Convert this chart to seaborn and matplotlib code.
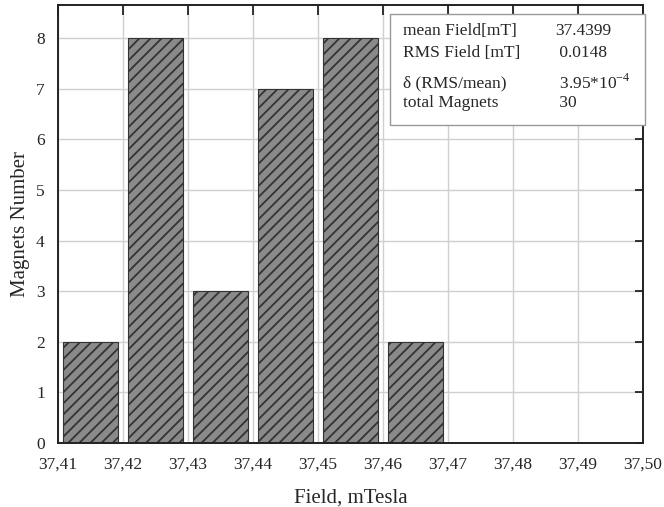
import seaborn as sns
import matplotlib.pyplot as plt
from matplotlib.patches import Rectangle

# histogram of magnet fields
bin_centers = [37.415, 37.425, 37.435, 37.445, 37.455, 37.465]
counts = [2, 8, 3, 7, 8, 2]
xticks = [37.41, 37.42, 37.43, 37.44, 37.45, 37.46, 37.47, 37.48, 37.49, 37.50]
yticks = [0, 1, 2, 3, 4, 5, 6, 7, 8]

stat_names = ["mean Field[mT]", "RMS Field [mT]", "\u03b4 (RMS/mean)", "total Magnets"]
stat_values = ["37.4399", " 0.0148", r" 3.95*10$^{\mathregular{-4}}$", " 30"]

sns.set_style("white")
plt.rcParams['font.family'] = ['Liberation Serif', 'DejaVu Serif']
plt.rcParams['mathtext.fontset'] = 'custom'
plt.rcParams['mathtext.rm'] = 'Liberation Serif'
plt.rcParams['hatch.linewidth'] = 1.3

fig = plt.figure(figsize=(6.64, 5.07), dpi=100)
ax = fig.add_axes([0.0873, 0.126, 0.881, 0.864])

sns.barplot(x=bin_centers, y=counts, native_scale=True, width=0.86,
            color="#808080", edgecolor="black", linewidth=0.8, ax=ax)
for p in ax.patches:
    p.set_hatch('///')
    p.set_facecolor('#8a8a8a')
    p.set_edgecolor('#333333')

ax.set_xlim(37.41, 37.50)
ax.set_ylim(0, 8.65)
ax.set_xticks(xticks)
ax.set_xticklabels([("%.2f" % v).replace(".", ",") for v in xticks])
ax.set_yticks(yticks)

ax.set_axisbelow(True)
ax.grid(True, color="#d0d0d0", linewidth=1.0)
for s in ax.spines.values():
    s.set_color("#222222")
    s.set_linewidth(1.4)

ax.tick_params(axis='both', which='major', labelsize=12.5, direction='out',
               length=6.5, width=1.3, color="#222222", pad=3)
ax.tick_params(top=True, right=True)
# top/right ticks go inward
for t in ax.xaxis.get_major_ticks():
    t.tick2line.set_marker(3)
    t.tick2line.set_markersize(7)
for t in ax.yaxis.get_major_ticks():
    t.tick2line.set_marker(0)
    t.tick2line.set_markersize(6)

ax.set_xlabel("Field, mTesla", fontsize=15, labelpad=12)
ax.set_ylabel("Magnets Number", fontsize=15, labelpad=4)

# statistics box
ax.add_patch(Rectangle((0.568, 0.726), 0.436, 0.253, transform=ax.transAxes,
                       facecolor="white", edgecolor="#999999", linewidth=1.0,
                       zorder=5, clip_on=False))
rows_y = [0.940, 0.891, 0.822, 0.776]
for name, val, yy in zip(stat_names, stat_values, rows_y):
    ax.text(0.590, yy, name, transform=ax.transAxes, fontsize=12.5,
            va='center', ha='left', zorder=6)
    ax.text(0.850, yy, val, transform=ax.transAxes, fontsize=12.5,
            va='center', ha='left', zorder=6)

plt.savefig("out.png", dpi=100)
